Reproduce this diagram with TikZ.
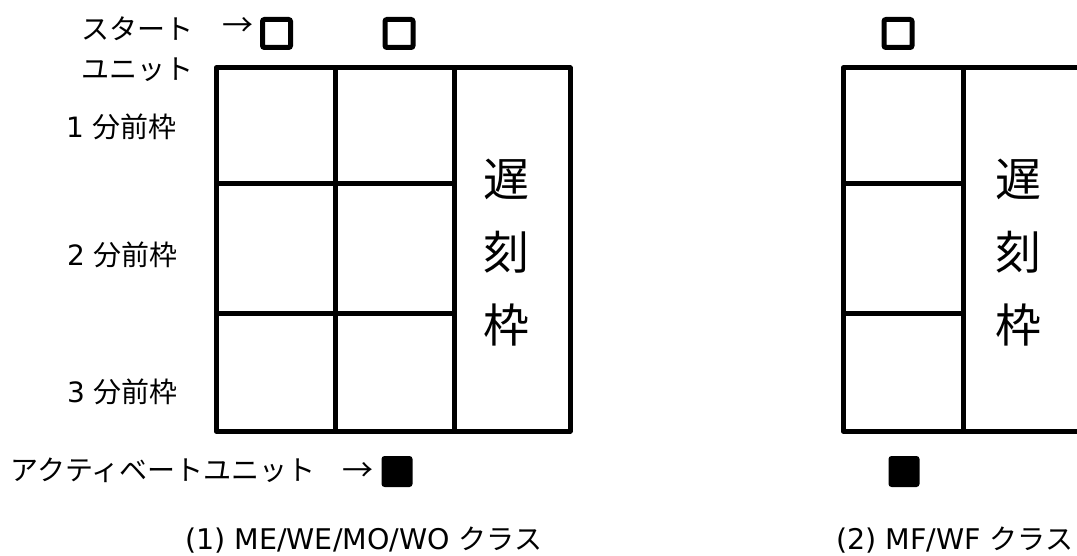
\documentclass[tikz,border=0pt]{standalone}
\usepackage{fontspec}
\setmainfont{Noto Sans CJK JP}
\newfontfamily\latinfont{DejaVu Sans}
\usetikzlibrary{positioning}

\begin{document}
\begin{tikzpicture}[x=1pt, y=1pt,
    frame/.style={line width=5pt, line join=round},
    startunit/.style={draw, line width=5pt, rounded corners=2pt, minimum size=28pt, inner sep=0pt},
    activeunit/.style={fill, rounded corners=3pt, minimum size=31pt, inner sep=0pt},
    txt/.style={font=\fontsize{28}{32}\selectfont, inner sep=0pt},
    arrowtxt/.style={font=\fontsize{31}{34}\selectfont, inner sep=0pt},
    latetxt/.style={font=\fontsize{46}{73}\selectfont, align=center, inner sep=0pt}]
    \useasboundingbox (0,0) rectangle (1077,555);
    \clip (0,0) rectangle (1077,555);

    % Draw grid (1)
    \draw[frame] (216,124) rectangle (570,487);
    \foreach \y in {241,371} {
        \draw[frame] (216,\y) -- (454,\y);
    }
    \foreach \x in {335,454} {
        \draw[frame] (\x,124) -- (\x,487);
    }
    \node[latetxt] (lateA) at (506,302) {遅\\刻\\枠};

    % Draw grid (2), cut at the right edge
    \draw[frame] (843,124) rectangle (1100,487);
    \foreach \y in {241,371} {
        \draw[frame] (843,\y) -- (963,\y);
    }
    \draw[frame] (963,124) -- (963,487);
    \node[latetxt] (lateB) at (1018,302) {遅\\刻\\枠};

    % Units
    \node[startunit] (startA) at (276.5,521.5) {};
    \node[startunit] (startB) at (399,521.5) {};
    \node[startunit] (startC) at (898,521.5) {};
    \node[activeunit] (actA) at (397,83.5) {};
    \node[activeunit] (actC) at (904,83.5) {};

    % Labels
    \node[arrowtxt, left=6pt of startA, yshift=6pt] (startarrow) {→};
    \node[txt, anchor=east] (startlbl) at (194,526) {スタート};
    \node[txt, anchor=east] (unitlbl) at (194,485) {ユニット};
    \node[txt, anchor=east] (min1) at (177,428) {{\latinfont 1 }分前枠};
    \node[txt, anchor=east] (min2) at (178,300) {{\latinfont 2 }分前枠};
    \node[txt, anchor=east] (min3) at (178,163) {{\latinfont 3 }分前枠};
    \node[arrowtxt, left=8pt of actA] (actarrow) {→};
    \node[txt, anchor=east] (actlbl) at (316,85) {アクティベートユニット};

    % Captions
    \node[txt, anchor=west] (capA) at (185,15) {{\latinfont\fontsize{28.5}{32}\selectfont (1) ME/WE/MO/WO }クラス};
    \node[txt, anchor=west] (capB) at (836,15) {{\latinfont\fontsize{28.5}{32}\selectfont (2) MF/WF }クラス};
\end{tikzpicture}
\end{document}
